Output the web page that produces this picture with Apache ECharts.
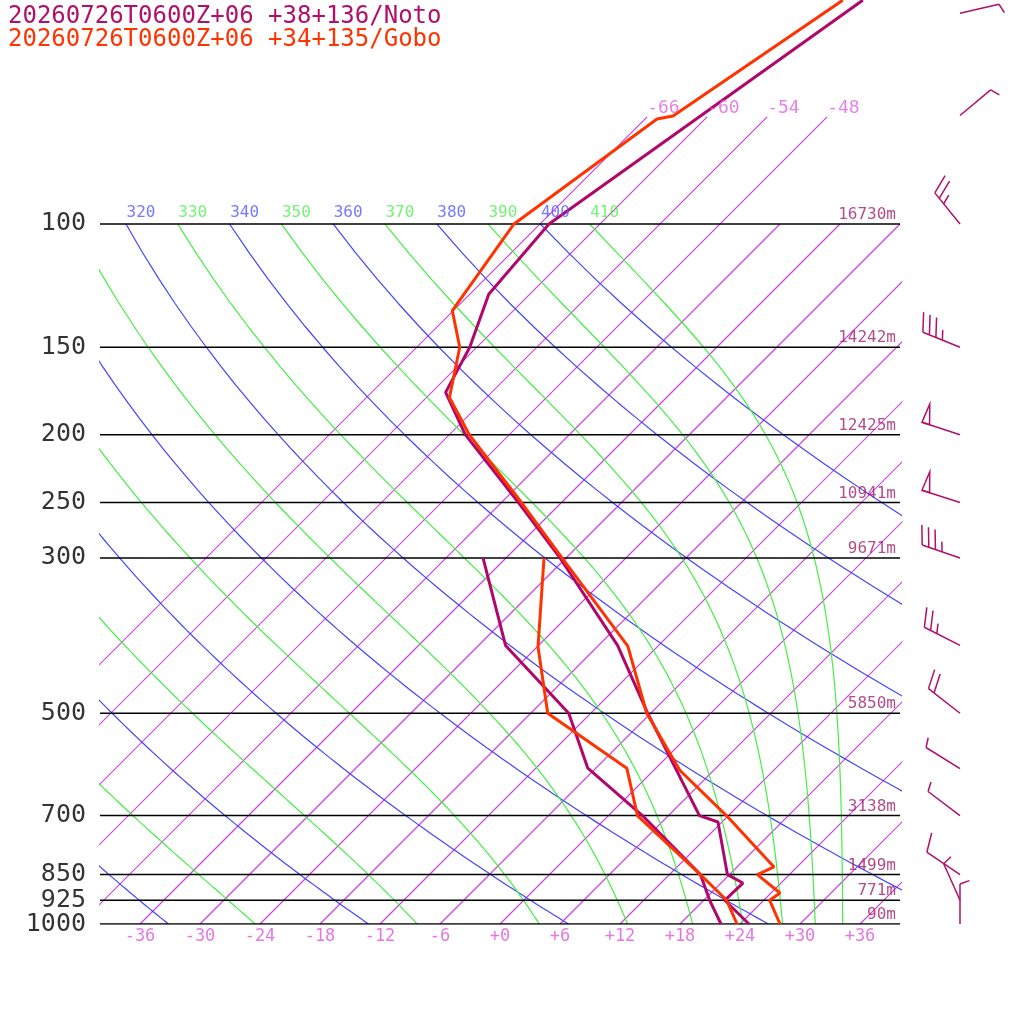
<!DOCTYPE html>
<html><head><meta charset="utf-8">
<script src="https://cdn.jsdelivr.net/npm/echarts@6/dist/echarts.min.js"></script>
<style>html,body{margin:0;padding:0;background:#fff}#c{width:1024px;height:1024px}</style>
</head><body><div id="c"></div>
<script>
// ---- data ----
const P_LEVELS = [100,150,200,250,300,500,700,850,925,1000];
const P_LABELS = ['100','150','200','250','300','500','700','850','925','1000'];
const HEIGHTS = ['16730m','14242m','12425m','10941m','9671m','5850m','3138m','1499m','771m','90m'];
const X_TICKS = [-36,-30,-24,-18,-12,-6,0,6,12,18,24,30,36];
const X_TICK_LABELS = ['-36','-30','-24','-18','-12','-6','+0','+6','+12','+18','+24','+30','+36'];
const ISO_TOP_LABELS = [-66,-60,-54,-48];
const THETA_DRY = [240,260,280,300,320,340,360,380,400];
const THETA_E = [250,270,290,310,330,350,370,390,410];
const THETA_LABELS = [320,330,340,350,360,370,380,390,400,410];

const NOTO_T_P = [47.9,100,126,150,174,200,250,300,400,500,700,715,850,874,925,1000];
const NOTO_T   = [-56.1,-65.1,-64.1,-60.7,-58.6,-52.4,-40.3,-30.6,-16.1,-6.3,9.1,11.6,17.8,20.2,20.1,24.9];
const NOTO_TD_P = [300,400,500,599,700,850,925,1000];
const NOTO_TD   = [-38.3,-27.3,-14.2,-6.8,3.4,15.1,18.6,22.1];

const GOBO_T_P = [47.9,70.1,70.8,100,133,150,177,200,250,300,401,500,603,700,829,850,903,925,1000];
const GOBO_T   = [-58.1,-63.5,-64.8,-68.6,-66.1,-61.7,-57.7,-52.0,-40.0,-30.4,-15.0,-6.4,2.6,11.8,21.7,20.8,24.9,24.6,28.0];
const GOBO_TD_P = [300,402,500,599,700,850,925,1000];
const GOBO_TD   = [-32.2,-23.9,-16.3,-2.9,2.9,15.1,20.3,23.7];

const WIND_P   = [50,70,100,150,200,250,300,400,500,600,700,850,925,1000];
const WIND_DIR = [77,50,321,292,288,288,289,297,308,302,307,304,336,0];
const WIND_KT  = [5,5,25,35,50,50,35,25,20,5,5,10,5,5];

// ---- helpers ----
const SKEW = 70;
const PTOP = 47.87;
function sk(T,p){return T + SKEW*Math.log10(1000/p);}
function prof(ps,ts){return ps.map((p,i)=>[sk(ts[i],p),p]);}
function pList(){const a=[];for(let p=1000;p>=100;p-=10)a.push(p);return a;}
function es(Tc){return 6.112*Math.exp(17.67*Tc/(Tc+243.5));}
function thetaE(T,p){const Tc=T-273.15;const e=es(Tc);const r=0.622*e/(p-e);return T*Math.pow(1000/p,0.2857)*Math.exp(2.5e6*r/(1004*T));}
function solveTE(te,p){let lo=150,hi=330;for(let i=0;i<60;i++){const m=(lo+hi)/2;if(thetaE(m,p)>te)hi=m;else lo=m;}return (lo+hi)/2-273.15;}

const series=[];
const thin = (c,w,d,z)=>({type:'line',symbol:'none',silent:true,animation:false,color:c,itemStyle:{color:c},lineStyle:{color:c,width:w},z:z||1,data:d});

// isotherms
for(let T=-66;T<=36;T+=6){
  const top = ISO_TOP_LABELS.includes(T)?70.3:100;
  series.push(thin('#cc44dd',1.2,[[sk(T,1000),1000],[sk(T,top),top]]));
}
// dry adiabats
THETA_DRY.forEach(th=>{
  series.push(thin('#4444ff',1.2,pList().map(p=>[sk(th*Math.pow(p/1000,0.2857)-273.15,p),p])));
});
// pseudo adiabats
THETA_E.forEach(te=>{
  series.push(thin('#44ee44',1.2,pList().map(p=>[sk(solveTE(te,p),p),p])));
});
// pressure lines
P_LEVELS.forEach(p=>{
  series.push(thin('#000',1.5,[[-40,p],[40,p]],2));
});
// soundings
const snd=(d,c)=>({type:'line',symbol:'none',animation:false,data:d,color:c,lineStyle:{color:c,width:3},z:5});
series.push(snd(prof(NOTO_T_P,NOTO_T),'#b0086a'));
series.push(snd(prof(NOTO_TD_P,NOTO_TD),'#b0086a'));
series.push(snd(prof(GOBO_T_P,GOBO_T),'#ff3300'));
series.push(snd(prof(GOBO_TD_P,GOBO_TD),'#ff3300'));

const mono='DejaVu Sans Mono';
function labels(data,label){
  return {type:'scatter',symbolSize:0,silent:true,animation:false,clip:false,z:6,data:data,
    label:Object.assign({show:true,fontFamily:mono,formatter:o=>o.value[2]},label)};
}
series.push(labels(P_LEVELS.map((p,i)=>[-40,p,P_LABELS[i]]),{position:'left',distance:14,fontSize:25,color:'#000'}));
series.push(labels(P_LEVELS.map((p,i)=>[40,p,HEIGHTS[i]]),{position:'left',distance:4,offset:[0,-9],fontSize:16,color:'#a0206a'}));
series.push(labels(X_TICKS.map((t,i)=>[t,1000,X_TICK_LABELS[i]]),{position:'bottom',distance:4,fontSize:17,color:'#dd55dd'}));
series.push(labels(ISO_TOP_LABELS.map(t=>[sk(t,70.3),70.3,String(t)]),{position:'top',align:'left',distance:0,fontSize:18,color:'#dd66dd'}));
const thAll=THETA_LABELS.map(th=>{
  const dry=THETA_DRY.includes(th);
  const T= dry? th*Math.pow(0.1,0.2857)-273.15 : solveTE(th,100);
  return {value:[sk(T,100)+1.5,100,String(th)],label:{color:dry?'#5555ff':'#55ee55'}};
});
series.push(labels(thAll,{position:'top',distance:3,fontSize:16}));

// wind barbs
series.push({type:'custom',clip:false,silent:true,animation:false,z:7,
  data:WIND_P.map((p,i)=>[p,WIND_DIR[i],WIND_KT[i]]),
  renderItem:function(params,api){
    const p=api.value(0),dir=api.value(1),kt=api.value(2);
    const b=api.coord([46,p]);
    const a=dir*Math.PI/180; const ux=Math.sin(a),uy=-Math.cos(a);
    const L=40; const tip=[b[0]+ux*L,b[1]+uy*L];
    const ba=Math.atan2(uy,ux)+70*Math.PI/180; const bx=Math.cos(ba),by=Math.sin(ba);
    const ch=[]; const st={stroke:'#b0106a',lineWidth:1.5,fill:null};
    ch.push({type:'line',shape:{x1:b[0],y1:b[1],x2:tip[0],y2:tip[1]},style:st});
    let rem=kt, pos=0;
    while(rem>=50){
      const s=[tip[0]-ux*pos,tip[1]-uy*pos]; const e=[tip[0]-ux*(pos+8),tip[1]-uy*(pos+8)];
      const pa=Math.atan2(uy,ux)+95*Math.PI/180;
      ch.push({type:'polygon',shape:{points:[s,[s[0]+Math.cos(pa)*20,s[1]+Math.sin(pa)*20],e]},style:{stroke:'#b0106a',lineWidth:1.5,fill:'none'}});
      pos+=10; rem-=50;
    }
    while(rem>=10){
      const s=[tip[0]-ux*pos,tip[1]-uy*pos];
      ch.push({type:'line',shape:{x1:s[0],y1:s[1],x2:s[0]+bx*20,y2:s[1]+by*20},style:st});
      pos+=7; rem-=10;
    }
    if(rem>=5){
      const s=[tip[0]-ux*pos,tip[1]-uy*pos];
      ch.push({type:'line',shape:{x1:s[0],y1:s[1],x2:s[0]+bx*10,y2:s[1]+by*10},style:st});
    }
    return {type:'group',children:ch};
  }
});

const chart=echarts.init(document.getElementById('c'));
chart.setOption({
  animation:false,
  backgroundColor:'#fff',
  grid:{left:100,top:0,width:800,height:924},
  xAxis:{type:'value',min:-40,max:40,show:false},
  yAxis:{type:'log',logBase:10,min:PTOP,max:1000,inverse:true,show:false},
  graphic:[
    {type:'text',left:8,top:5,style:{text:'20260726T0600Z+06 +38+136/Noto',fill:'#b0106a',font:'24px "DejaVu Sans Mono"'}},
    {type:'text',left:8,top:28,style:{text:'20260726T0600Z+06 +34+135/Gobo',fill:'#ff3300',font:'24px "DejaVu Sans Mono"'}}
  ],
  series:series
});
</script></body></html>
